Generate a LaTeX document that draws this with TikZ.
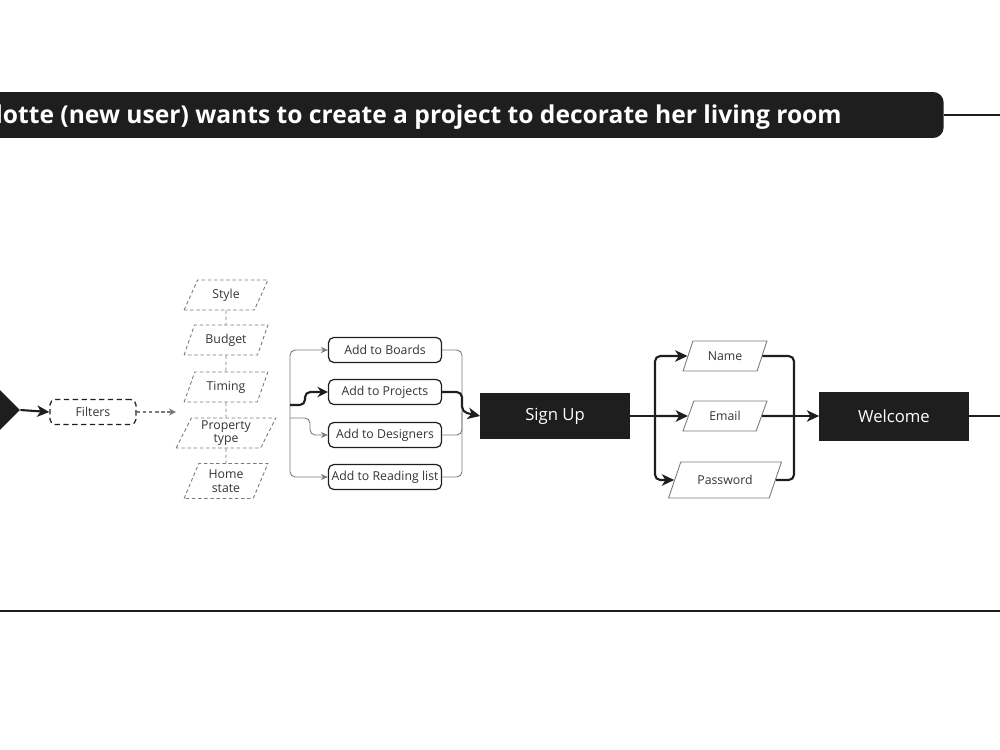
\documentclass[tikz,border=0pt]{standalone}
\usepackage{fontspec}
\setmainfont{Open Sans}
\usetikzlibrary{calc,shapes.geometric,arrows.meta,backgrounds}

\definecolor{ink}{HTML}{1E1E1E}
\definecolor{wire}{HTML}{7A7A7A}
\definecolor{txt}{HTML}{333333}

\tikzset{
  flowbox/.style={draw=ink,line width=0.7pt,rounded corners=3pt,minimum width=2.26cm,minimum height=0.5cm,inner sep=1pt,text=txt,font=\fontsize{7}{8}\selectfont},
  stagebox/.style={fill=ink,draw=ink,minimum width=2.98cm,minimum height=0.9cm,text=white,font=\fontsize{9.5}{11}\selectfont},
  databox/.style={trapezium,trapezium left angle=65,trapezium right angle=115,trapezium stretches=true,draw=wire,line width=0.5pt,inner sep=1pt,text=txt,font=\fontsize{7}{8}\selectfont},
  filterbox/.style={databox,dash pattern=on 2pt off 1.5pt,align=center,minimum width=1.68cm,minimum height=0.6cm,font=\fontsize{7}{7.6}\selectfont},
  thinlink/.style={draw=wire,line width=0.5pt,rounded corners=3pt,-{Stealth[length=4pt,width=3.5pt]}},
  thicklink/.style={draw=ink,line width=1.2pt,rounded corners=3pt},
  thickarrow/.style={thicklink,-{Stealth[length=7pt,width=6.5pt,inset=2pt]}}
}

\begin{document}
\begin{tikzpicture}[x=0.02cm,y=-0.02cm]
            \useasboundingbox (0,0) rectangle (1000,750);
            \clip (0,0) rectangle (1000,750);
            \node[fill=ink,rounded corners=6pt,anchor=east,minimum height=0.92cm,inner xsep=0.3cm,text height=10.5pt,text depth=0.3pt,text=white,font=\bfseries\fontsize{14}{16}\selectfont] (story) at (944,115){Charlotte (new user) wants to create a project to decorate her living room\hspace*{1.74cm}};
            \coordinate (storyout) at (1000,115);
            \draw[draw=ink,line width=0.9pt] (story.east) -- (storyout);

            \node[diamond,fill=ink,minimum size=0.92cm,inner sep=0pt] (start) at (-3,410){};
            \node[flowbox,dash pattern=on 3pt off 2pt,draw=ink,minimum width=1.72cm] (filters) at (93,412){Filters};
            \coordinate (filterin) at (176,412);

            \node[filterbox] (style) at (226,295){Style};
            \node[filterbox] (budget) at (226,340){Budget};
            \node[filterbox] (timing) at (226,387){Timing};
            \node[filterbox,minimum width=2cm,inner ysep=0pt] (ptype) at (226,433){Property\\type};
            \node[filterbox,minimum height=0.7cm,inner ysep=0pt] (home) at (226,481){Home\\state};

            \node[flowbox] (boards) at (385,350){Add to Boards};
            \node[flowbox] (projects) at (385,392){Add to Projects};
            \node[flowbox] (designers) at (385,435){Add to Designers};
            \node[flowbox] (reading) at (385,477){Add to Reading list};

            \node[stagebox] (signup) at (555,416){Sign Up};
            \node[databox,minimum width=1.68cm,minimum height=0.6cm] (name) at (725,356){Name};
            \node[databox,minimum width=1.68cm,minimum height=0.6cm] (email) at (725,416){Email};
            \node[databox,trapezium left angle=58,trapezium right angle=122,minimum width=2.26cm,minimum height=0.72cm] (password) at (725,480){Password};
            \node[stagebox,minimum height=0.96cm] (welcome) at (894,416){Welcome};
            \coordinate (welcomeout) at (1000,416);

            \coordinate (lsplit) at (290,412);
            \coordinate (psrc) at (290,405);
            \coordinate (dsrc) at (290,418);
            \coordinate (rjoin) at (462,412);
            \coordinate (sjoin) at (655,416);
            \coordinate (wjoin) at (794,416);
            \coordinate (lineleft) at (0,611);
            \coordinate (lineright) at (1000,611);

            \draw[thickarrow] (start.east) -- (filters.west);
            \draw[draw=wire,line width=0.6pt,dash pattern=on 2pt off 1.5pt,-{Stealth[length=4pt,width=4pt]}] (filters.east) -- (filterin);
            \draw[draw=wire,line width=0.5pt,dash pattern=on 2pt off 1.5pt] (style) -- (budget) -- (timing) -- (ptype) -- (home);

            \draw[thinlink] (lsplit) |- (boards.west);
            \draw[thinlink] (lsplit) |- (reading.west);
            \draw[thinlink] (dsrc) -- ++(20,0) |- (designers.west);
            \draw[thicklink,-{Stealth[length=6pt,width=6pt,inset=2pt]}] (psrc) -- ++(15,0) |- (projects.west);
            \draw[thinlink,-] (boards.east) -| (rjoin);
            \draw[thinlink,-] (designers.east) -| (rjoin);
            \draw[thinlink,-] (reading.east) -| (rjoin);
            \draw[thickarrow] (projects.east) -| (rjoin) -- (signup.west);

            \draw[thicklink] (signup.east) -- (sjoin);
            \draw[thickarrow] (sjoin) |- (name);
            \draw[thickarrow] (sjoin) -- (email);
            \draw[thickarrow] (sjoin) |- (password);
            \draw[thicklink] (name) -| (wjoin);
            \draw[thicklink] (email) -- (wjoin);
            \draw[thicklink] (password) -| (wjoin);
            \draw[thickarrow] (wjoin) -- (welcome.west);
            \draw[thicklink] (welcome.east) -- (welcomeout);

            \draw[draw=ink,line width=1pt] (lineleft) -- (lineright);
          \end{tikzpicture}
\end{document}
